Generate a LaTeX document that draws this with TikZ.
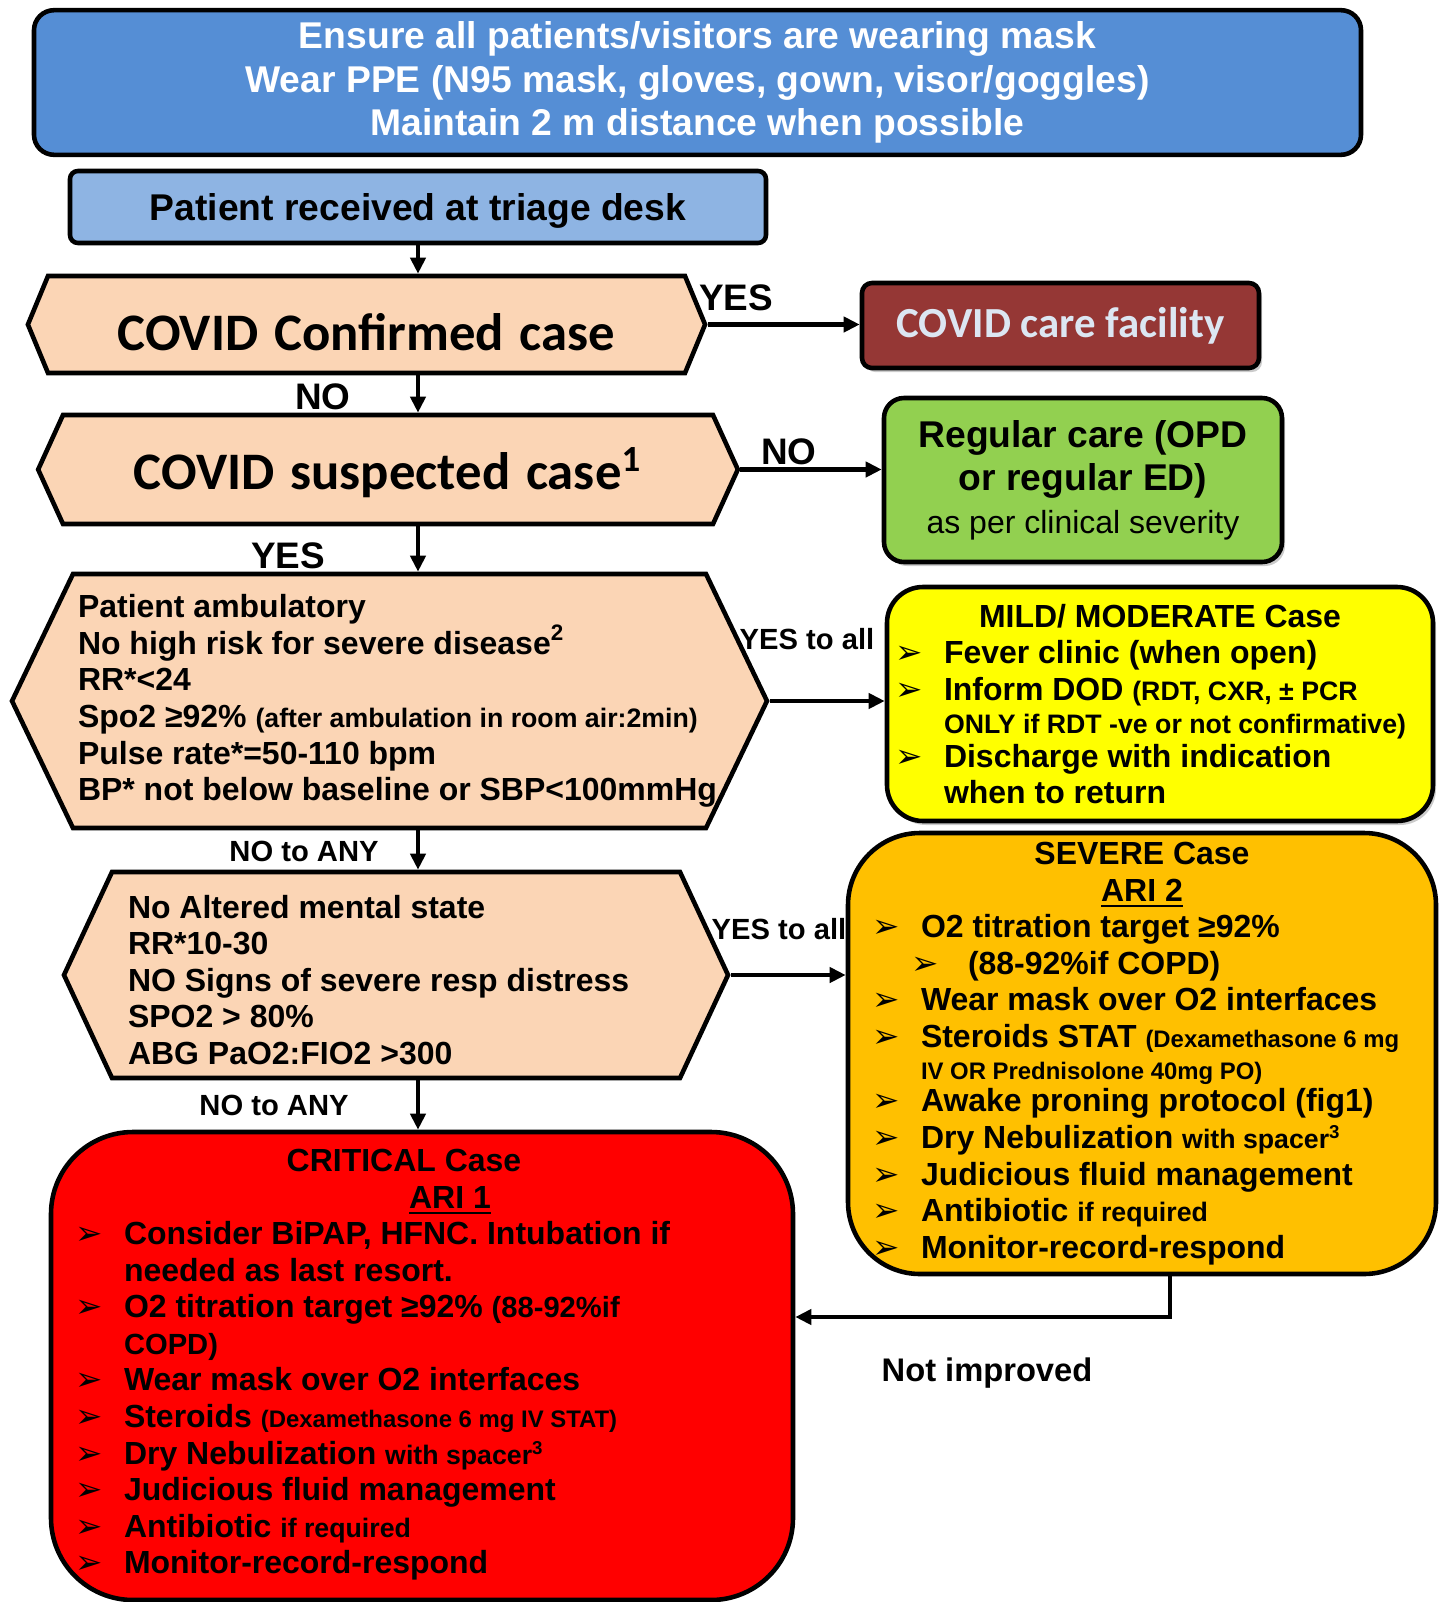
\documentclass[tikz,border=0pt]{standalone}
\usepackage{fontspec}
\setmainfont{Liberation Sans}
\newfontfamily\calfont{Carlito}
\newfontfamily\symfont{DejaVu Sans}
\usepackage{tikz}
\usetikzlibrary{shapes.symbols, arrows.meta, calc, shadows}
\definecolor{ppeblue}{RGB}{85,142,213}
\definecolor{triageblue}{RGB}{142,180,227}
\definecolor{peach}{RGB}{251,213,181}
\definecolor{carered}{RGB}{149,55,53}
\definecolor{caretext}{RGB}{220,230,242}
\definecolor{regulargreen}{RGB}{146,208,80}
\definecolor{mildyellow}{RGB}{255,255,0}
\definecolor{severeamber}{RGB}{255,192,0}
\definecolor{criticalred}{RGB}{255,0,0}
\newcommand{\bul}{\makebox[0.37cm][l]{\hspace*{-0.12cm}\symfont\mdseries\fontsize{9.3}{8}\selectfont ➢}}
\newcommand{\subbul}{\hspace*{0.37cm}\makebox[0.47cm][l]{\hspace*{-0.1cm}\symfont\mdseries\fontsize{9.3}{8}\selectfont ➢}}
\newcommand{\smtxt}[1]{{\fontsize{7.6}{8}\selectfont #1}}
\newcommand{\xstxt}[1]{{\fontsize{6.8}{8}\selectfont #1}}
\newcommand{\midtxt}[1]{{\fontsize{8.3}{9}\selectfont #1}}
\begin{document}
\begin{tikzpicture}[
  ppe/.style={rectangle, draw, line width=1.3pt, rounded corners=0.2cm, fill=ppeblue, text=white,
              font=\bfseries\fontsize{10.6}{12.3}\selectfont, align=center,
              minimum width=13.27cm, minimum height=1.41cm},
  triage/.style={rectangle, draw, line width=1.3pt, rounded corners=0.08cm, fill=triageblue,
              font=\bfseries\fontsize{10.6}{12}\selectfont, text depth=0pt,
              minimum width=6.96cm, minimum height=0.72cm},
  hexa/.style={signal, signal to=west and east, draw, line width=1.3pt, fill=peach, inner ysep=0pt,
              execute at begin node={\spaceskip=0pt\xspaceskip=0pt}},
  hexatitle/.style={hexa, inner xsep=0pt, align=center, font=\calfont\bfseries\fontsize{15}{18}\selectfont},
  hexalist/.style={hexa, align=left, font=\bfseries\fontsize{9.1}{10.4}\selectfont},
  outcome/.style={rectangle, draw, line width=1.3pt, align=left, inner ysep=0pt,
              font=\bfseries\fontsize{9.1}{10.4}\selectfont,
              execute at begin node={\spaceskip=0pt\xspaceskip=0pt}},
  shade/.style={drop shadow={shadow xshift=0.03cm, shadow yshift=-0.04cm, fill=black!45, opacity=0.45}},
  lbl/.style={font=\bfseries\fontsize{10.5}{12}\selectfont},
  sublbl/.style={font=\bfseries\fontsize{8.3}{10}\selectfont},
  arr/.style={line width=1.3pt, -{Triangle[length=0.16cm, width=0.15cm]}},
]
  \useasboundingbox (0,0) rectangle (14.39,-16.02);

  \node[ppe] (ppe) at (6.975,-0.825)
    {Ensure all patients/visitors are wearing mask\\
     Wear PPE (N95 mask, gloves, gown, visor/goggles)\\
     Maintain 2 m distance when possible};

  \node[triage] (triage) at (4.18,-2.07) {Patient received at triage desk};

  \node[hexatitle, text width=6.37cm, text height=0.52cm, text depth=0pt,
        minimum height=0.97cm, signal pointer angle=135]
    (confirmed) at (3.665,-3.245) {COVID Confirmed case};

  \node[rectangle, draw, line width=1.3pt, rounded corners=0.1cm, fill=carered, shade,
        text=caretext, font=\calfont\bfseries\fontsize{12.2}{14}\selectfont,
        minimum width=3.97cm, minimum height=0.85cm]
    (facility) at (10.605,-3.255) {COVID care facility};

  \node[hexatitle, text width=6.50cm, text height=0.45cm, text depth=0.05cm,
        minimum height=1.09cm, signal pointer angle=131]
    (suspected) at (3.88,-4.695) {COVID suspected case\textsuperscript{1}\hspace*{0.3cm}};

  \node[outcome, rounded corners=0.2cm, fill=regulargreen, shade, align=center, inner ysep=0.1cm,
        font=\bfseries\fontsize{10.6}{12.2}\selectfont,
        minimum width=3.98cm, minimum height=1.64cm]
    (regular) at (10.83,-4.80)
    {Regular care (OPD\\ or regular ED)\\ {\mdseries\fontsize{9.1}{10}\selectfont as per clinical severity}};

  \node[hexalist, inner xsep=0.05cm, text width=6.23cm, minimum height=2.54cm, signal pointer angle=128.7]
    (ambul) at (3.895,-7.01)
    {Patient ambulatory\\
     No high risk for severe disease\textsuperscript{2}\\
     RR*<24\\
     \mbox{Spo2 ≥92\% \smtxt{(after ambulation in room air:2min)}}\\
     Pulse rate*=50-110 bpm\\
     \mbox{BP* not below baseline or SBP<100mmHg}};

  \node[outcome, rounded corners=0.36cm, fill=mildyellow, shade, inner xsep=0.2cm, text width=5.06cm,
        minimum width=5.46cm, minimum height=2.34cm]
    (mild) at (11.60,-7.04)
    {\makebox[\linewidth]{MILD/ MODERATE Case}\\
     \bul Fever clinic (when open)\\
     \bul Inform DOD \smtxt{(RDT, CXR, ± PCR}\\[-0.9pt]
     \hspace*{0.37cm}\mbox{\smtxt{ONLY if RDT -ve or not confirmative)}}\\[-0.9pt]
     \bul Discharge with indication\\
     \hspace*{0.37cm}when to return};

  \node[hexalist, inner xsep=0.16cm, text width=5.36cm, text height=0.33cm,
        minimum height=2.06cm, signal pointer angle=130]
    (nonsev) at (3.96,-9.75)
    {No Altered mental state\\
     RR*10-30\\
     NO Signs of severe resp distress\\
     SPO2 > 80\%\\
     ABG PaO2:FIO2 >300};

  \node[outcome, rounded corners=0.72cm, fill=severeamber, inner xsep=0.36cm, text width=5.16cm,
        minimum width=5.88cm, minimum height=4.41cm]
    (severe) at (11.42,-10.535)
    {\makebox[\linewidth]{SEVERE Case}\\
     \makebox[\linewidth]{\underline{ARI 2}}\\
     \bul O2 titration target ≥92\%\\
     \subbul(88-92\%if COPD)\\
     \bul Wear mask over O2 interfaces\\
     \bul\mbox{Steroids STAT \xstxt{(Dexamethasone 6 mg}}\\[-1.2pt]
     \hspace*{0.37cm}\xstxt{IV OR Prednisolone 40mg PO)}\\[-1.2pt]
     \bul Awake proning protocol (fig1)\\
     \bul Dry Nebulization \smtxt{with spacer\textsuperscript{3}}\\
     \bul Judicious fluid management\\
     \bul Antibiotic \smtxt{if required}\\
     \bul Monitor-record-respond};

  \node[outcome, rounded corners=0.82cm, fill=criticalred, inner xsep=0.36cm, text width=6.70cm,
        text height=0.2cm, minimum width=7.42cm, minimum height=4.68cm]
    (critical) at (4.22,-13.66)
    {\makebox[\linewidth]{CRITICAL Case\hspace*{0.36cm}}\\
     \makebox[\linewidth]{\hspace*{0.56cm}\underline{ARI 1}}\\
     \bul Consider BiPAP, HFNC. Intubation if\\
     \hspace*{0.37cm}needed as last resort.\\
     \bul O2 titration target ≥92\% \midtxt{(88-92\%if}\\
     \hspace*{0.37cm}\midtxt{COPD)}\\
     \bul Wear mask over O2 interfaces\\
     \bul Steroids \xstxt{(Dexamethasone 6 mg IV STAT)}\\
     \bul Dry Nebulization \smtxt{with spacer\textsuperscript{3}}\\
     \bul Judicious fluid management\\
     \bul Antibiotic \smtxt{if required}\\
     \bul Monitor-record-respond};

  \node[lbl] (yes-conf) at (7.36,-2.98) {YES};
  \node[lbl] (no-conf) at (3.23,-3.97) {NO};
  \node[lbl] (no-susp) at (7.89,-4.52) {NO};
  \node[lbl] (yes-susp) at (2.88,-5.56) {YES};
  \node[sublbl] (yes-ambul) at (8.07,-6.39) {YES to all};
  \node[sublbl] (no-ambul) at (3.04,-8.51) {NO to ANY};
  \node[sublbl] (yes-nonsev) at (7.79,-9.29) {YES to all};
  \node[sublbl] (no-nonsev) at (2.74,-11.05) {NO to ANY};
  \node[font=\bfseries\fontsize{9.3}{11}\selectfont] (notimproved) at (9.87,-13.73) {Not improved};

  \coordinate (bend) at (11.70,-13.17);

  \draw[arr] (triage.south) -- (triage.south |- confirmed.north);
  \draw[arr] (confirmed.east) -- (confirmed.east -| facility.west);
  \draw[arr] (confirmed.south -| triage.south) -- (suspected.north -| triage.south);
  \draw[arr] (suspected.east) -- (suspected.east -| regular.west);
  \draw[arr] (suspected.south -| triage.south) -- (ambul.north -| triage.south);
  \draw[arr] (ambul.east) -- (ambul.east -| mild.west);
  \draw[arr] (ambul.south -| triage.south) -- (nonsev.north -| triage.south);
  \draw[arr] (nonsev.east) -- (nonsev.east -| severe.west);
  \draw[arr] (nonsev.south -| triage.south) -- (critical.north -| triage.south);
  \draw[arr] (severe.south -| bend) -- (bend) -- (bend -| critical.east);
\end{tikzpicture}
\end{document}
